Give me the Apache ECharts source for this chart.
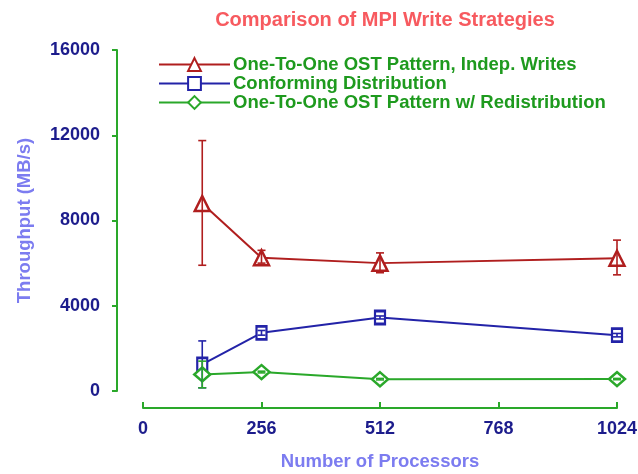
<!DOCTYPE html>
<html>
<head>
<meta charset="utf-8">
<script src="https://cdn.jsdelivr.net/npm/echarts@6/dist/echarts.min.js"></script>
<style>html,body{margin:0;padding:0;background:#fff}#c{width:638px;height:474px}</style>
</head>
<body>
<div id="c"></div>
<script>
const procs = [128, 256, 512, 1024];
const xTicks = [0, 256, 512, 768, 1024];
const yTicks = [0, 4000, 8000, 12000, 16000];

const seriesNames = ['One-To-One OST Pattern, Indep. Writes', 'Conforming Distribution', 'One-To-One OST Pattern w/ Redistribution'];

const indep = [8800, 6250, 6000, 6230];
const indepLow = [5900, 6000, 5550, 5450];
const indepHigh = [11750, 6600, 6480, 7080];

const conform = [1250, 2730, 3450, 2620];
const conformLow = [150, 2620, 3380, 2540];
const conformHigh = [2350, 2840, 3520, 2700];

const redist = [780, 890, 550, 560];
const redistLow = [150, 850, 520, 530];
const redistHigh = [1400, 930, 590, 590];

const RED = '#b01e1e', BLUE = '#2323a8', GREEN = '#2aa82a';
const FONT = 'Liberation Sans, Arial, sans-serif';

function errSeries(name, color, low, high) {
  return {
    name: name, type: 'custom', z: 5,
    data: procs.map((p, i) => [p, low[i], high[i]]),
    renderItem: function (params, api) {
      const x = api.value(0);
      const p1 = api.coord([x, api.value(2)]);
      const p2 = api.coord([x, api.value(1)]);
      const w = 4;
      const st = { stroke: color, lineWidth: 1.6 };
      return { type: 'group', children: [
        { type: 'line', shape: { x1: p1[0], y1: p1[1], x2: p2[0], y2: p2[1] }, style: st },
        { type: 'line', shape: { x1: p1[0] - w, y1: p1[1], x2: p1[0] + w, y2: p1[1] }, style: st },
        { type: 'line', shape: { x1: p2[0] - w, y1: p2[1], x2: p2[0] + w, y2: p2[1] }, style: st }
      ]};
    },
    tooltip: { show: false }
  };
}

function lineSeries(name, color, vals, symbol, size) {
  return {
    name: name, type: 'line', z: 3,
    data: procs.map((p, i) => [p, vals[i]]),
    symbol: symbol, symbolSize: size,
    lineStyle: { color: color, width: 2 },
    itemStyle: { color: '#fff', borderColor: color, borderWidth: 2.5 },
    color: color
  };
}

const chart = echarts.init(document.getElementById('c'), null, { renderer: 'canvas' });
chart.setOption({
  animation: false,
  backgroundColor: '#fff',
  title: {
    text: 'Comparison of MPI Write Strategies',
    left: 380, top: 5, textAlign: 'center',
    textStyle: { color: '#f75a5f', fontSize: 20, fontWeight: 'bold', fontFamily: FONT }
  },
  legend: {
    data: seriesNames,
    orient: 'vertical', left: 153, top: 50,
    itemWidth: 71, itemHeight: 16, itemGap: 0,
    textStyle: { color: '#1e9a1e', fontSize: 18.5, lineHeight: 18, fontWeight: 'bold', fontFamily: FONT, padding: [0, 0, 0, -2] }
  },
  grid: { left: 143, right: 21, top: 50, bottom: 83, containLabel: false, outerBoundsMode: 'none' },
  xAxis: {
    type: 'value', min: 0, max: 1024, interval: 256,
    offset: 17,
    name: 'Number of Processors', nameLocation: 'middle', nameGap: 44,
    nameTextStyle: { color: '#7c7cf0', fontSize: 18.5, fontWeight: 'bold', fontFamily: FONT },
    axisLine: { show: true, onZero: false, lineStyle: { color: GREEN, width: 2 } },
    axisTick: { show: true, inside: true, length: 6, lineStyle: { color: GREEN, width: 2 } },
    axisLabel: { color: '#1c1c8c', fontSize: 18, fontWeight: 'bold', fontFamily: FONT, margin: 12,
      formatter: v => xTicks.includes(v) ? String(v) : '' },
    splitLine: { show: false }
  },
  yAxis: {
    type: 'value', min: 0, max: 16000, interval: 4000,
    offset: 26,
    name: 'Throughput (MB/s)', nameLocation: 'middle', nameGap: 83, nameRotate: 90,
    nameTextStyle: { color: '#7c7cf0', fontSize: 18.5, fontWeight: 'bold', fontFamily: FONT },
    axisLine: { show: true, onZero: false, lineStyle: { color: GREEN, width: 2 } },
    axisTick: { show: true, inside: false, length: 5, lineStyle: { color: GREEN, width: 2 } },
    axisLabel: { color: '#1c1c8c', fontSize: 18, fontWeight: 'bold', fontFamily: FONT, margin: 17,
      formatter: v => yTicks.includes(v) ? String(v) : '' },
    splitLine: { show: false }
  },
  series: [
    lineSeries(seriesNames[0], RED, indep, 'triangle', 15),
    lineSeries(seriesNames[1], BLUE, conform, 'rect', [10, 13]),
    lineSeries(seriesNames[2], GREEN, redist, 'diamond', [16, 14]),
    errSeries('e1', RED, indepLow, indepHigh),
    errSeries('e2', BLUE, conformLow, conformHigh),
    errSeries('e3', GREEN, redistLow, redistHigh)
  ]
});
</script>
</body>
</html>
